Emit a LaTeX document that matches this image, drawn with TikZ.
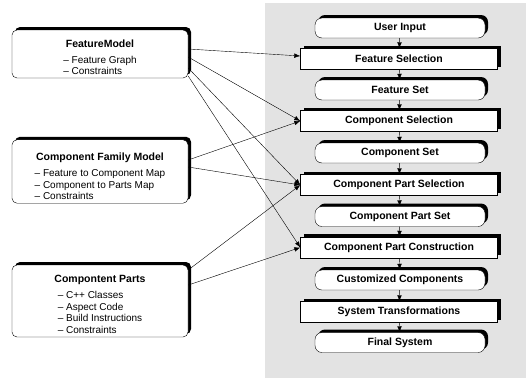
\documentclass[tikz,border=0pt]{standalone}
\usepackage{fontspec}
\setmainfont{Liberation Sans}
\usetikzlibrary{shadows,arrows.meta}
\newcommand{\hd}{\fontsize{10.5}{12}\bfseries}
\tikzset{
  shade/.style={drop shadow={shadow xshift=3pt,shadow yshift=3pt,fill=black,opacity=1}},
  stage/.style={draw,fill=white,shade,rounded corners=7pt,minimum width=170pt,
                minimum height=20pt,inner sep=0pt,font=\hd},
  task/.style={draw,fill=white,shade,minimum width=197pt,minimum height=21pt,
               inner sep=0pt,font=\hd},
  model/.style={draw,fill=white,shade,rounded corners=5pt,minimum width=176pt,
                inner sep=0pt,align=center,font=\fontsize{10}{11.5}\selectfont},
}

\begin{document}
\begin{tikzpicture}[x=1pt,y=-1pt,>={Latex[length=6pt,width=4.5pt]}]
   \useasboundingbox (0,0) rectangle (526,378);
   \fill[black!11] (265,3) rectangle (526,378);
   % process column
   \node[stage] (input)  at (400, 28)  {User Input};
   \node[task]  (fsel)   at (399, 59)  {Feature Selection};
   \node[stage] (fset)   at (400, 90)  {Feature Set};
   \node[task]  (csel)   at (399,121)  {Component Selection};
   \node[stage] (cset)   at (400,153)  {Component Set};
   \node[task]  (cpsel)  at (399,185)  {Component Part Selection};
   \node[stage] (cpset)  at (400,216.5){Component Part Set};
   \node[task]  (cpcon)  at (399,247.5){Component Part Construction};
   \node[stage] (ccomp)  at (400,280)  {Customized Components};
   \node[task]  (strans) at (399,312)  {System Transformations};
   \node[stage] (final)  at (400,342.5){Final System};
   \draw[->] (input) -- (fsel);
   \draw[->] (fsel)  -- (fset);
   \draw[->] (fset)  -- (csel);
   \draw[->] (csel)  -- (cset);
   \draw[->] (cset)  -- (cpsel);
   \draw[->] (cpsel) -- (cpset);
   \draw[->] (cpset) -- (cpcon);
   \draw[->] (cpcon) -- (ccomp);
   \draw[->] (ccomp) -- (strans);
   \draw[->] (strans) -- (final);
   % models
   \node[model,minimum height=48pt] (fm) at (100,54) {%
     \rule{0pt}{17pt}{\hd FeatureModel}\\[4.5pt]
     \begin{tabular}[t]{@{}l@{}}-- Feature Graph\\ -- Constraints\end{tabular}\hspace{11pt}};
   \node[model,minimum height=63pt] (cfm) at (100,171.5) {%
     \rule{0pt}{21pt}{\hd Component Family Model}\\[4.5pt]
     \begin{tabular}[t]{@{}l@{}}-- Feature to Component Map\\ -- Component to Parts Map\\
       -- Constraints\end{tabular}\hspace{20pt}};
   \node[model,minimum height=72pt] (cp) at (100,301) {%
     \rule{0pt}{17pt}{\hd Compontent Parts}\\[4.5pt]
     \begin{tabular}[t]{@{}l@{}}-- C++ Classes\\ -- Aspect Code\\ -- Build Instructions\\
       -- Constraints\end{tabular}\hspace{34pt}};
   \draw[->] ([yshift=5pt]fm.east)    -- ([yshift=3pt]fsel.west);
   \draw[->] ([yshift=-3pt]fm.east)   -- (csel.west);
   \draw[->] ([yshift=-14pt]fm.east)  -- (cpsel.west);
   \draw[->] ([yshift=-22pt]fm.east)  -- (cpcon.west);
   \draw[->] ([yshift=11.5pt]cfm.east) -- (csel.west);
   \draw[->] ([yshift=4.5pt]cfm.east)  -- (cpsel.west);
   \draw[->] ([yshift=31pt]cp.east)   -- (cpsel.west);
   \draw[->] ([yshift=16pt]cp.east)   -- (cpcon.west);
\end{tikzpicture}
\end{document}
